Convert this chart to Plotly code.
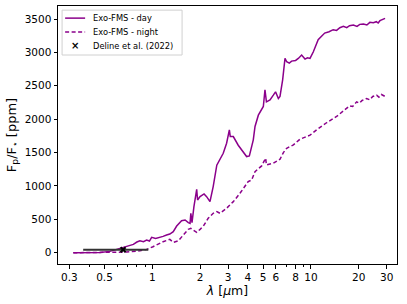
import plotly.graph_objects as go

day_wl = [0.318, 0.386, 0.468, 0.541, 0.611, 0.673, 0.72, 0.760, 0.80, 0.836, 0.88, 0.921, 0.96, 0.991, 1.05, 1.118,
          1.17, 1.23, 1.29, 1.356, 1.425, 1.53, 1.61, 1.686, 1.73, 1.75, 1.78, 1.83, 1.905, 1.93, 2.0, 2.12,
          2.2, 2.31, 2.42, 2.55, 2.67, 2.80, 2.94, 3.06, 3.1, 3.24, 3.48, 3.75, 3.93, 4.09,
          4.33, 4.44, 4.66, 5.01, 5.13, 5.24, 5.52, 5.79, 5.98, 6.23, 6.38, 6.63, 6.86, 7.03,
          7.3, 7.55, 8.0, 8.32, 8.73, 9.17, 9.5, 9.86, 10.35, 11.1, 12.2, 13.0, 13.8, 14.5, 15.2, 16.0,
          16.8, 17.5, 18.5, 19.5, 20.3, 21.4, 22.5, 23.5, 24.7, 25.8, 26.5, 27.2, 28.3, 29.3]
day_ppm = [0, 0, 5, 20, 60, 90, 110, 125, 160, 180, 165, 190, 175, 230, 215, 230,
           245, 265, 280, 315, 400, 480, 490, 450, 440, 590, 450, 690, 950, 790, 840, 880,
           840, 765, 990, 1310, 1390, 1490, 1640, 1840, 1740, 1740, 1610, 1510, 1440, 1450,
           1690, 1890, 2060, 2190, 2440, 2260, 2290, 2360, 2410, 2310, 2340, 2590, 2910, 2860,
           2840, 2870, 2880, 2910, 2960, 2900, 2920, 2910, 3010, 3190, 3290, 3310, 3340, 3330, 3370, 3390,
           3370, 3400, 3410, 3390, 3420, 3425, 3410, 3450, 3445, 3460, 3440, 3475, 3490, 3510]

night_wl = [0.318, 0.468, 0.69, 0.836, 0.92, 1.01, 1.17, 1.29, 1.356, 1.46, 1.57, 1.686, 1.75,
            1.81, 1.905, 2.0, 2.1, 2.25, 2.42, 2.55, 2.67, 2.94, 3.24, 3.57, 3.84, 4.02, 4.23,
            4.44, 4.89, 5.18, 5.24, 5.79, 6.38, 6.70, 7.03, 7.75, 8.53, 9.86, 10.86, 12.6, 14.5,
            16.8, 17.5, 18.3, 19.4, 20.2, 21.0, 22.4, 23.5, 24.5, 25.9, 26.8, 27.8, 29.3]
night_ppm = [0, 0, 10, 30, 50, 90, 165, 200, 155, 180, 265, 350, 365,
             340, 305, 350, 400, 515, 590, 615, 590, 665, 765, 890, 990, 1065, 1090,
             1215, 1300, 1415, 1315, 1340, 1400, 1500, 1565, 1615, 1700, 1760, 1840, 1950, 2040,
             2160, 2200, 2190, 2260, 2240, 2280, 2310, 2290, 2340, 2360, 2330, 2370, 2340]

obs_wl = [0.655]
obs_ppm = [45]
obs_err_minus = [0.288]
obs_err_plus = [0.289]

x_ticks = [0.3, 0.5, 1, 2, 3, 4, 5, 6, 8, 10, 20, 30]
x_ticktext = ["0.3", "0.5", "1", "2", "3", "4", "5", "6", "8", "10", "20", "30"]
x_minor = [0.4, 0.6, 0.7, 0.8, 0.9, 7, 9]
y_ticks = [0, 500, 1000, 1500, 2000, 2500, 3000, 3500]

legend_labels = ["Exo-FMS - day", "Exo-FMS - night", "Deline et al. (2022)"]

purple = "#8b008b"

fig = go.Figure()
fig.add_trace(go.Scatter(x=day_wl, y=day_ppm, mode="lines", name=legend_labels[0],
                         line=dict(color=purple, width=1.5), showlegend=False))
fig.add_trace(go.Scatter(x=night_wl, y=night_ppm, mode="lines", name=legend_labels[1],
                         line=dict(color=purple, width=1.5, dash="4px,2.5px"), showlegend=False))
fig.add_trace(go.Scatter(x=obs_wl, y=obs_ppm, mode="markers", name=legend_labels[2],
                         marker=dict(symbol="x-thin", size=5, color="black",
                                     line=dict(color="black", width=2)),
                         error_x=dict(type="data", symmetric=False, array=obs_err_plus,
                                      arrayminus=obs_err_minus, color="#333333",
                                      thickness=2, width=0), showlegend=False))

# manual legend (paper coords of plot area)
shapes = [
    dict(type="rect", xref="paper", yref="paper", x0=0.012, x1=0.366, y0=0.810, y1=0.984,
         line=dict(color="#d0d0d0", width=1), fillcolor="rgba(255,255,255,0.8)", layer="above"),
    dict(type="line", xref="paper", yref="paper", x0=0.021, x1=0.080, y0=0.953, y1=0.953,
         line=dict(color=purple, width=1.5), layer="above"),
    dict(type="line", xref="paper", yref="paper", x0=0.021, x1=0.080, y0=0.899, y1=0.899,
         line=dict(color=purple, width=1.5, dash="4px,2.5px"), layer="above"),
]
rows_y = [0.953, 0.899, 0.846]
annotations = [
    dict(xref="paper", yref="paper", x=0.097, y=ry, text=t, showarrow=False,
         xanchor="left", yanchor="middle", font=dict(size=8.3, color="black"))
    for t, ry in zip(legend_labels, rows_y)
]
annotations.append(dict(xref="paper", yref="paper", x=0.050, y=rows_y[2], text="<b>×</b>",
                        showarrow=False, xanchor="center", yanchor="middle",
                        font=dict(size=10, color="black")))

fig.update_layout(
    width=407, height=304,
    margin=dict(l=58, r=10, t=6, b=40),
    paper_bgcolor="white", plot_bgcolor="white",
    font=dict(family="DejaVu Sans", size=10, color="black"),
    showlegend=False,
    shapes=shapes, annotations=annotations,
    xaxis=dict(type="log", range=[-0.594, 1.542], tickvals=x_ticks, ticktext=x_ticktext,
               ticks="outside", ticklen=3.5, tickcolor="black", showgrid=False, zeroline=False,
               showline=True, linecolor="black", linewidth=1, mirror=True, automargin=False,
               minor=dict(tickvals=x_minor, ticks="outside", ticklen=2, tickcolor="black"),
               title=dict(text="<i>λ</i> [<i>μ</i>m]", font=dict(size=12.5), standoff=3),
               tickfont=dict(size=10.5)),
    yaxis=dict(range=[-169, 3695], tickvals=y_ticks, ticks="outside", ticklen=3.5,
               tickcolor="black", showgrid=False, zeroline=False, automargin=False,
               showline=True, linecolor="black", linewidth=1, mirror=True,
               title=dict(text="F<sub>p</sub>/F<sub>⋆</sub> [ppm]", font=dict(size=13), standoff=5),
               tickfont=dict(size=10.5)),
)

fig.write_html("out.html", config={"displayModeBar": False},
               post_script="document.body.style.margin='0px'; document.body.style.overflow='hidden';")
